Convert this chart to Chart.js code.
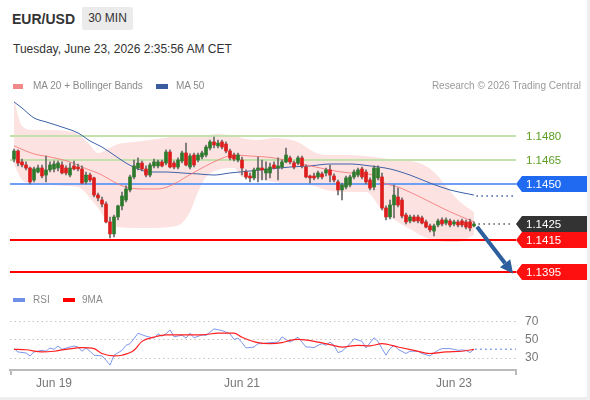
<!DOCTYPE html>
<html>
<head>
<meta charset="utf-8">
<script src="https://cdn.jsdelivr.net/npm/chart.js@4.4.1/dist/chart.umd.min.js"></script>
<style>
  html, body { margin: 0; padding: 0; background: #eeeeee; }
  #card { position: absolute; left: 0; top: 0; width: 587px; height: 397px; background: #fff; overflow: hidden;
          font-family: "Liberation Sans", Arial, sans-serif; }
  .abs { position: absolute; white-space: nowrap; }
  .sym { left: 12px; top: 8px; line-height: 23px; font-size: 14px; font-weight: bold; color: #333; }
  .tf { left: 82px; top: 7px; width: 51px; height: 23px; line-height: 23px; text-align: center; font-size: 12px; color: #333; background: #ebebeb; border-radius: 2px; }
  .date { left: 13px; top: 41px; line-height: 16px; font-size: 12px; color: #333; }
  .lg { line-height: 14px; font-size: 10px; color: #8a8a8a; z-index: 2; }
  .box { z-index: 2; }
  canvas { position: absolute; left: 0; }
</style>
</head>
<body>
<div id="card">
  <div class="abs sym">EUR/USD</div>
  <div class="abs tf">30 MIN</div>
  <div class="abs date">Tuesday, June 23, 2026 2:35:56 AM CET</div>

  <div class="abs box" style="left:13px;top:84px;width:10px;height:5px;background:#f08a8a"></div>
  <div class="abs lg" style="left:33px;top:79px">MA 20 + Bollinger Bands</div>
  <div class="abs box" style="left:156px;top:84px;width:12px;height:5px;background:#3a5da0"></div>
  <div class="abs lg" style="left:176px;top:79px">MA 50</div>
  <div class="abs lg" style="right:6px;top:79px;color:#9a9a9a">Research © 2026 Trading Central</div>

  <canvas id="priceChart" width="588" height="210" style="top:85px"></canvas>

  <div class="abs box" style="left:13px;top:298px;width:12px;height:4px;background:#7090e8"></div>
  <div class="abs lg" style="left:33px;top:293px">RSI</div>
  <div class="abs box" style="left:63px;top:298px;width:12px;height:4px;background:#ff0000"></div>
  <div class="abs lg" style="left:82px;top:293px">9MA</div>

  <canvas id="rsiChart" width="588" height="110" style="top:290px"></canvas>
</div>

<script>
// 30 min candles, index 0 = first candle on the left
const opens = [1.14656,1.14706,1.14638,1.14619,1.14600,1.14525,1.14575,1.14600,1.14556,1.14588,
  1.14594,1.14600,1.14619,1.14600,1.14556,1.14613,1.14606,1.14594,1.14513,1.14556,
  1.14538,1.14431,1.14400,1.14375,1.14263,1.14188,1.14294,1.14363,1.14400,1.14463,
  1.14544,1.14600,1.14631,1.14594,1.14556,1.14613,1.14613,1.14638,1.14631,1.14700,
  1.14631,1.14606,1.14644,1.14694,1.14606,1.14681,1.14650,1.14669,1.14681,1.14725,
  1.14763,1.14738,1.14763,1.14750,1.14706,1.14681,1.14650,1.14650,1.14575,1.14550,
  1.14538,1.14588,1.14600,1.14569,1.14569,1.14619,1.14600,1.14606,1.14638,1.14663,
  1.14631,1.14631,1.14663,1.14606,1.14550,1.14550,1.14544,1.14563,1.14569,1.14588,
  1.14550,1.14513,1.14463,1.14481,1.14494,1.14544,1.14556,1.14594,1.14575,1.14525,
  1.14481,1.14538,1.14544,1.14350,1.14294,1.14369,1.14419,1.14400,1.14306,1.14269,
  1.14294,1.14294,1.14288,1.14263,1.14238,1.14206,1.14244,1.14275,1.14256,1.14269,
  1.14250,1.14263,1.14269,1.14263,1.14263,1.14238];
const highs = [1.14719,1.14713,1.14656,1.14638,1.14606,1.14606,1.14619,1.14619,1.14675,1.14638,
  1.14644,1.14644,1.14638,1.14613,1.14631,1.14644,1.14625,1.14613,1.14575,1.14569,
  1.14544,1.14444,1.14419,1.14388,1.14294,1.14306,1.14369,1.14450,1.14488,1.14556,
  1.14650,1.14663,1.14644,1.14613,1.14631,1.14656,1.14650,1.14650,1.14713,1.14713,
  1.14644,1.14663,1.14706,1.14756,1.14688,1.14694,1.14694,1.14706,1.14744,1.14775,
  1.14794,1.14775,1.14775,1.14763,1.14719,1.14694,1.14694,1.14669,1.14588,1.14569,
  1.14600,1.14669,1.14650,1.14638,1.14631,1.14638,1.14663,1.14650,1.14725,1.14675,
  1.14644,1.14675,1.14675,1.14619,1.14556,1.14569,1.14581,1.14575,1.14600,1.14619,
  1.14563,1.14525,1.14506,1.14550,1.14556,1.14588,1.14600,1.14606,1.14588,1.14538,
  1.14613,1.14613,1.14569,1.14363,1.14400,1.14494,1.14475,1.14413,1.14319,1.14306,
  1.14306,1.14306,1.14300,1.14275,1.14250,1.14250,1.14281,1.14288,1.14288,1.14281,
  1.14275,1.14275,1.14281,1.14275,1.14281,1.14263];
const lows = [1.14638,1.14613,1.14606,1.14588,1.14500,1.14513,1.14569,1.14538,1.14513,1.14575,
  1.14575,1.14581,1.14563,1.14556,1.14544,1.14588,1.14581,1.14500,1.14500,1.14513,
  1.14419,1.14394,1.14356,1.14256,1.14163,1.14169,1.14275,1.14338,1.14388,1.14450,
  1.14531,1.14588,1.14581,1.14544,1.14544,1.14600,1.14600,1.14606,1.14619,1.14600,
  1.14594,1.14594,1.14631,1.14613,1.14594,1.14606,1.14638,1.14656,1.14669,1.14713,
  1.14725,1.14725,1.14719,1.14694,1.14650,1.14644,1.14638,1.14556,1.14531,1.14513,
  1.14525,1.14513,1.14525,1.14525,1.14538,1.14594,1.14525,1.14594,1.14631,1.14625,
  1.14594,1.14619,1.14600,1.14538,1.14506,1.14525,1.14531,1.14531,1.14550,1.14513,
  1.14513,1.14431,1.14400,1.14469,1.14481,1.14531,1.14544,1.14531,1.14500,1.14463,
  1.14463,1.14525,1.14338,1.14275,1.14281,1.14288,1.14356,1.14288,1.14250,1.14256,
  1.14263,1.14256,1.14250,1.14225,1.14200,1.14175,1.14231,1.14238,1.14244,1.14231,
  1.14238,1.14231,1.14231,1.14219,1.14206,1.14231];
const closes = [1.14706,1.14631,1.14619,1.14600,1.14513,1.14594,1.14600,1.14550,1.14588,1.14619,
  1.14625,1.14631,1.14569,1.14569,1.14600,1.14594,1.14594,1.14506,1.14556,1.14525,
  1.14431,1.14413,1.14375,1.14263,1.14188,1.14294,1.14363,1.14425,1.14469,1.14544,
  1.14613,1.14631,1.14594,1.14556,1.14619,1.14638,1.14638,1.14613,1.14700,1.14606,
  1.14606,1.14650,1.14694,1.14619,1.14675,1.14619,1.14681,1.14694,1.14731,1.14763,
  1.14744,1.14756,1.14731,1.14706,1.14663,1.14656,1.14681,1.14600,1.14544,1.14538,
  1.14588,1.14600,1.14588,1.14594,1.14606,1.14600,1.14613,1.14638,1.14681,1.14638,
  1.14606,1.14663,1.14613,1.14544,1.14538,1.14538,1.14569,1.14544,1.14588,1.14556,
  1.14525,1.14463,1.14494,1.14538,1.14544,1.14575,1.14588,1.14544,1.14513,1.14475,
  1.14600,1.14600,1.14350,1.14294,1.14369,1.14431,1.14369,1.14300,1.14263,1.14294,
  1.14269,1.14269,1.14256,1.14231,1.14213,1.14238,1.14269,1.14250,1.14275,1.14244,
  1.14263,1.14244,1.14244,1.14231,1.14225,1.14250];

// moving averages and bands at these candle indexes
const ma20Idx = [0,5,9,14,17,22,25,28,32,36,40,43,47,51,55,59,65,73,84,90,92,96,102,107,112,115];
const ma20Vals = [1.14738,1.14688,1.14669,1.14638,1.14606,1.14556,1.14513,1.14481,1.14469,1.14469,
  1.14500,1.14544,1.14600,1.14650,1.14681,1.14675,1.14663,1.14619,1.14569,1.14556,
  1.14513,1.14481,1.14413,1.14350,1.14294,1.14263];
const ma50Idx = [0,2,5,8,12,16,19,22,25,28,31,34,38,42,46,50,54,59,64,69,74,79,84,89,94,99,104,109,115];
const ma50Vals = [1.15013,1.14975,1.14913,1.14888,1.14856,1.14819,1.14769,1.14731,1.14681,1.14631,
  1.14594,1.14575,1.14575,1.14569,1.14563,1.14556,1.14569,1.14581,1.14594,1.14606,
  1.14613,1.14625,1.14625,1.14613,1.14594,1.14556,1.14506,1.14463,1.14431];
const bbIdx = [0,2,5,9,13,16,19,21,23,26,30,34,39,42,44,46,48,51,55,57,61,65,71,75,78,83,88,92,96,99,102,105,108,111,115];
const bbUpper = [1.15025,1.14863,1.14838,1.14838,1.14831,1.14813,1.14744,1.14694,1.14713,1.14750,
  1.14763,1.14775,1.14794,1.14800,1.14806,1.14806,1.14806,1.14813,1.14800,1.14788,
  1.14775,1.14788,1.14763,1.14700,1.14681,1.14681,1.14675,1.14663,1.14650,1.14644,
  1.14625,1.14575,1.14488,1.14400,1.14325];
const bbLower = [1.14625,1.14525,1.14500,1.14494,1.14488,1.14481,1.14413,1.14350,1.14275,1.14231,
  1.14225,1.14225,1.14231,1.14256,1.14325,1.14450,1.14544,1.14588,1.14600,1.14544,
  1.14531,1.14513,1.14500,1.14488,1.14463,1.14450,1.14450,1.14338,1.14263,1.14219,
  1.14175,1.14150,1.14138,1.14138,1.14181];

// RSI panel
const rsiIdx = [0,1,3,4,5,7,8,9,10,11,12,14,15,16,17,18,19,20,22,23,24,25,27,28,29,30,31,32,33,35,
  36,37,38,39,40,42,43,44,45,47,48,49,50,52,53,54,55,56,57,58,60,61,62,64,66,67,68,69,71,72,
  73,74,75,76,77,78,79,80,81,82,84,85,87,88,90,91,92,93,94,95,96,98,99,101,102,104,106,107,109,111,
  112,113,114,115];
const rsiVals = [40.5,36.8,35.7,32.5,36.8,38.6,37.6,41.2,39.7,43.3,39.7,42.2,43.3,42.2,37.6,41.2,37.6,33.2,32.5,27.8,
  22.4,33.2,38.6,44.1,45.9,51.3,57.4,55.6,54.1,52.0,56.7,54.1,56.7,61.0,53.4,55.2,52.0,57.4,52.3,55.6,
  54.9,58.5,62.1,60.3,58.5,56.7,50.5,52.0,47.0,41.2,42.2,45.9,45.9,47.0,47.6,53.4,50.5,47.6,53.0,47.6,
  42.2,42.2,41.5,44.1,45.9,44.1,47.6,44.1,36.1,37.6,45.9,51.3,48.4,41.2,52.4,48.4,40.5,33.2,40.5,44.1,
  39.7,35.1,37.6,37.6,35.1,32.5,38.6,40.5,40.5,38.6,39.0,38.6,36.1,39.7];
const rsiMaIdx = [0,3,7,10,13,17,20,22,25,27,30,32,35,38,42,47,51,55,57,61,64,67,69,71,76,79,82,86,89,92,96,100,104,108,112,115];
const rsiMaVals = [39.7,39.2,36.8,37.6,39.7,41.6,40.5,35.1,32.5,33.2,38.6,48.4,53.0,55.6,55.6,55.6,57.4,57.4,53.0,47.0,
  45.9,47.0,49.5,50.5,47.6,44.8,42.2,44.1,43.5,45.9,42.2,38.6,35.1,36.8,37.6,39.7];
const rsiLevels = [30, 50, 70];

const tickIdx = [10, 57, 110];
const tickLabels = ['Jun 19', 'Jun 21', 'Jun 23'];

// key levels on the right
const levelPrices = [1.1480, 1.1465, 1.1450, 1.1425, 1.1415, 1.1395];
const arrowFrom = [115.75, 1.14233];
const arrowTo = [124.75, 1.13940];

// styles of the levels, same order as levelPrices
const levelLine = ['#c4e0ad', '#c4e0ad', '#6e9ff5', null, '#ff0000', '#ff0000'];
const levelTag = [null, null, '#1f6af0', '#333333', '#ff1010', '#ff1010'];
const levelText = ['#5b9e22', '#5b9e22', '#ffffff', '#ffffff', '#ffffff', '#ffffff'];

Chart.defaults.font.family = '"Liberation Sans", Arial, sans-serif';
Chart.defaults.animation = false;

const X_MIN = -1, X_MAX = 125.5;
const last = closes.length - 1;
const idx = closes.map((_, i) => i);
const pts = (xs, ys) => xs.map((x, k) => ({ x: x, y: ys[k] }));
const isUp = i => closes[i] >= opens[i];

function dotted(ctx, x0, x1, y, color) {
  ctx.save();
  ctx.strokeStyle = color;
  ctx.lineWidth = 1.5;
  ctx.setLineDash([1.5, 3.5]);
  ctx.beginPath(); ctx.moveTo(x0, y); ctx.lineTo(x1, y); ctx.stroke();
  ctx.restore();
}

const levelPlugin = {
  id: 'levels',
  afterDatasetDraw(chart, args) {
    // lines go right above the bollinger band fill
    if (chart.data.datasets[args.index].label !== 'bbUpper') return;
    const { ctx, chartArea: a, scales: { y } } = chart;
    ctx.save();
    ctx.lineWidth = 2;
    levelPrices.forEach((p, k) => {
      if (!levelLine[k]) return;
      const py = Math.round(y.getPixelForValue(p));
      ctx.strokeStyle = levelLine[k];
      ctx.beginPath(); ctx.moveTo(a.left, py); ctx.lineTo(a.right, py); ctx.stroke();
    });
    ctx.restore();
  },
  afterDraw(chart) {
    const { ctx, chartArea: a, scales: { x, y } } = chart;
    const xs = x.getPixelForValue(last + 0.6);

    // projections of the last values
    dotted(ctx, xs, a.right - 3, y.getPixelForValue(ma50Vals[ma50Vals.length - 1]) + 1, '#3a5da0');
    dotted(ctx, xs + 2, a.right - 3, y.getPixelForValue(closes[last]), '#555555');

    // tags
    ctx.save();
    ctx.font = '11.5px "Liberation Sans", Arial, sans-serif';
    ctx.textBaseline = 'middle';
    levelPrices.forEach((p, k) => {
      const py = Math.round(y.getPixelForValue(p));
      const tip = a.right, r = 587, h = 8;
      if (levelTag[k]) {
        ctx.fillStyle = levelTag[k];
        ctx.beginPath();
        ctx.moveTo(tip, py);
        ctx.lineTo(tip + 6, py - h);
        ctx.lineTo(r, py - h);
        ctx.lineTo(r, py + h);
        ctx.lineTo(tip + 6, py + h);
        ctx.closePath();
        ctx.fill();
      }
      ctx.fillStyle = levelText[k];
      ctx.fillText(p.toFixed(4), tip + 10, py + 0.5);
    });

    // arrow toward the target
    const x0 = x.getPixelForValue(arrowFrom[0]), y0 = y.getPixelForValue(arrowFrom[1]);
    const x1 = x.getPixelForValue(arrowTo[0]), y1 = y.getPixelForValue(arrowTo[1]);
    const ang = Math.atan2(y1 - y0, x1 - x0), head = 13, wing = 6.5;
    const bx = x1 - head * Math.cos(ang), by = y1 - head * Math.sin(ang);
    ctx.strokeStyle = '#2d5f9e';
    ctx.fillStyle = '#2d5f9e';
    ctx.lineWidth = 4;
    ctx.beginPath(); ctx.moveTo(x0, y0); ctx.lineTo(bx, by); ctx.stroke();
    ctx.beginPath();
    ctx.moveTo(x1, y1);
    ctx.lineTo(bx + wing * Math.sin(ang), by - wing * Math.cos(ang));
    ctx.lineTo(bx - wing * Math.sin(ang), by + wing * Math.cos(ang));
    ctx.closePath();
    ctx.fill();
    ctx.restore();
  }
};

new Chart(document.getElementById('priceChart'), {
  type: 'bar',
  data: {
    datasets: [
      {
        label: 'body', order: 0, grouped: false, barThickness: 3, minBarLength: 1,
        data: idx.map(i => ({ x: i, y: [opens[i], closes[i]] })),
        backgroundColor: c => isUp(c.dataIndex) ? '#2d7a2d' : '#dd1c1c'
      },
      {
        label: 'wick', order: 1, grouped: false, barThickness: 1,
        data: idx.map(i => ({ x: i, y: [lows[i], highs[i]] })),
        backgroundColor: '#6a6a6a'
      },
      {
        type: 'line', label: 'MA 20', order: 2, data: pts(ma20Idx, ma20Vals),
        borderColor: 'rgba(245,120,120,0.85)', borderWidth: 1, pointRadius: 0, cubicInterpolationMode: 'monotone'
      },
      {
        type: 'line', label: 'MA 50', order: 3, data: pts(ma50Idx, ma50Vals),
        borderColor: '#3d62a8', borderWidth: 1, pointRadius: 0, cubicInterpolationMode: 'monotone'
      },
      {
        type: 'line', label: 'bbUpper', order: 10, data: pts(bbIdx, bbUpper),
        borderWidth: 0, pointRadius: 0, cubicInterpolationMode: 'monotone',
        fill: '+1', backgroundColor: 'rgba(250,185,185,0.42)'
      },
      {
        type: 'line', label: 'bbLower', order: 10, data: pts(bbIdx, bbLower),
        borderWidth: 0, pointRadius: 0, cubicInterpolationMode: 'monotone', fill: false
      }
    ]
  },
  options: {
    responsive: false,
    layout: { padding: { left: 10, right: 72, top: 10, bottom: 13 } },
    plugins: { legend: { display: false }, tooltip: { enabled: false } },
    scales: {
      x: { type: 'linear', display: false, min: X_MIN, max: X_MAX, offset: false },
      y: { display: false, min: 1.138875, max: 1.1505625 }
    }
  },
  plugins: [levelPlugin]
});

const rsiPlugin = {
  id: 'rsiExtras',
  afterDraw(chart) {
    const { ctx, chartArea: a, scales: { x, y } } = chart;
    dotted(ctx, x.getPixelForValue(last + 0.3), a.right, y.getPixelForValue(rsiVals[rsiVals.length - 1]), '#6f8fe6');
    ctx.save();
    ctx.strokeStyle = '#bbbbbb';
    ctx.lineWidth = 2;
    ctx.beginPath();
    ctx.moveTo(a.left + 1, a.bottom); ctx.lineTo(a.left + 1, a.bottom + 5);
    ctx.moveTo(a.right, a.bottom); ctx.lineTo(a.right, a.bottom + 5);
    ctx.stroke();
    ctx.restore();
  }
};

new Chart(document.getElementById('rsiChart'), {
  type: 'line',
  data: {
    datasets: [
      {
        label: '9MA', order: 0, data: pts(rsiMaIdx, rsiMaVals),
        borderColor: '#ff2020', borderWidth: 1.2, pointRadius: 0, cubicInterpolationMode: 'monotone'
      },
      {
        label: 'RSI', order: 1, data: pts(rsiIdx, rsiVals),
        borderColor: '#7c98ea', borderWidth: 1, pointRadius: 0, tension: 0
      }
    ]
  },
  options: {
    responsive: false,
    layout: { padding: { left: 10, right: 0, top: 15.25, bottom: 0 } },
    plugins: { legend: { display: false }, tooltip: { enabled: false } },
    scales: {
      x: {
        type: 'linear', min: X_MIN, max: X_MAX, offset: false,
        grid: { display: false, drawTicks: false },
        border: { display: true, color: '#bbbbbb', width: 2 },
        afterBuildTicks: s => { s.ticks = tickIdx.map(v => ({ value: v })); },
        afterFit: s => { s.height = 30; },
        ticks: {
          autoSkip: false, maxRotation: 0, padding: 6, color: '#777', font: { size: 12 },
          callback: v => tickLabels[tickIdx.indexOf(v)]
        }
      },
      y: {
        position: 'right', min: 17, max: 87,
        grid: { color: '#c4c4c4', lineWidth: 1, drawTicks: false },
        border: { display: false, dash: [1.5, 3] },
        afterBuildTicks: s => { s.ticks = rsiLevels.map(v => ({ value: v })); },
        afterFit: s => { s.width = 72; },
        ticks: { padding: 9, color: '#777', font: { size: 12 } }
      }
    }
  },
  plugins: [rsiPlugin]
});
</script>
</body>
</html>
